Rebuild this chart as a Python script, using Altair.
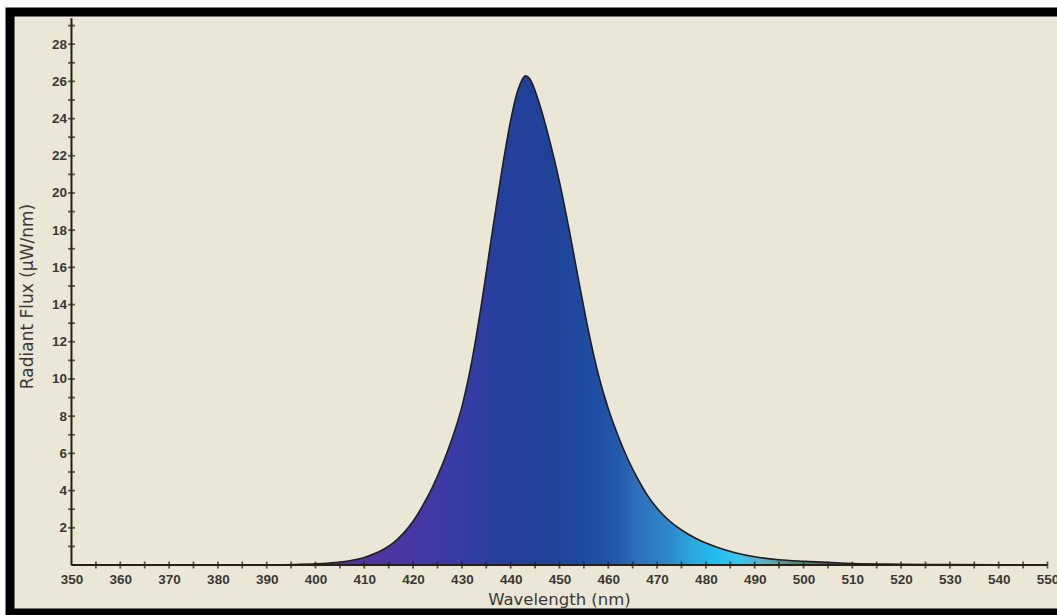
import altair as alt
import pandas as pd

# Emission spectrum of a blue LED
wavelength_nm = [350, 360, 370, 380, 390, 396, 400, 403, 406, 408, 410, 412, 414, 416,
                 418, 420, 422, 424, 426, 428, 430, 432, 434, 436, 438, 440, 441, 442,
                 443, 444, 445, 446, 448, 450, 452, 454, 456, 458, 460, 462, 464, 466,
                 468, 470, 472, 475, 478, 482, 486, 490, 495, 500, 505, 510, 520, 530,
                 540, 550]
radiant_flux = [0, 0, 0, 0, 0.01, 0.03, 0.06, 0.11, 0.19, 0.28, 0.4, 0.6, 0.85, 1.2,
                1.7, 2.35, 3.2, 4.2, 5.4, 6.8, 8.5, 10.9, 14.0, 17.5, 20.9, 23.9, 25.1, 25.9,
                26.3, 26.1, 25.5, 24.7, 22.8, 20.6, 18.0, 15.2, 12.5, 10.2, 8.4, 6.95, 5.7, 4.65,
                3.75, 3.05, 2.5, 1.88, 1.42, 0.98, 0.66, 0.44, 0.28, 0.2, 0.14, 0.08, 0.04, 0.02,
                0.01, 0]

# Axis ticks and labels
x_label_nm = list(range(350, 551, 10))
x_tick_nm = list(range(355, 551, 5))
y_label_flux = list(range(2, 29, 2))
y_tick_flux = list(range(1, 30))
y_axis_top = 29.4

# Spectral colouring of the fill (wavelength, colour)
fill_stop_nm = [350, 410, 418, 428, 438, 448, 456, 462, 466, 472, 477, 482, 487, 492, 498, 505, 550]
fill_stop_color = ["#523096", "#50339e", "#4a37a4", "#3a3ba6", "#253f9c", "#1f4298",
                   "#1f4ca2", "#2358ac", "#2e70bb", "#2f86c8", "#2aa6dc", "#22bdef",
                   "#3cc4ec", "#5ab0c0", "#4a8c7c", "#3f7060", "#3f6a50"]

spectrum = pd.DataFrame({"nm": wavelength_nm, "flux": radiant_flux})
x_ticks = pd.DataFrame({"nm": x_tick_nm, "flux": [0] * len(x_tick_nm)})
y_ticks = pd.DataFrame({"nm": [350] * len(y_tick_flux), "flux": y_tick_flux})
axis_lines = pd.DataFrame({"nm": [350, 350], "flux": [0, 0],
                           "nm2": [550, 350], "flux2": [0, y_axis_top]})

span = wavelength_nm[-1] - wavelength_nm[0]
gradient = alt.Gradient(
    gradient="linear", x1=0, x2=1, y1=0, y2=0,
    stops=[alt.GradientStop(offset=(w - wavelength_nm[0]) / span, color=c)
           for w, c in zip(fill_stop_nm, fill_stop_color)],
)

W, H = 1057, 601
x_scale = alt.Scale(domain=[337.40, 554.0], nice=False, zero=False)
y_scale = alt.Scale(domain=[-2.581, 29.731], nice=False, zero=False)

text_color = "#3b3833"
axis_color = "#2a1f17"

x_axis = alt.Axis(
    orient="bottom", offset=-48, values=x_label_nm, domain=False, ticks=False, grid=False,
    labelFont="Liberation Sans", labelFontWeight="bold", labelFontSize=13.5,
    labelColor=text_color, labelPadding=7, labelFlush=False, labelOverlap=False,
    title="Wavelength (nm)", titleFont="DejaVu Sans", titleFontSize=16.5,
    titleFontWeight="normal", titleColor=text_color, titleX=549, titleY=39,
    titleAlign="center", titleBaseline="alphabetic", format="d",
)
y_axis = alt.Axis(
    orient="left", offset=-61.5, values=y_label_flux, domain=False, ticks=False, grid=False,
    labelFont="Liberation Sans", labelFontWeight="bold", labelFontSize=13.5,
    labelColor=text_color, labelPadding=5, labelFlush=False, labelOverlap=False,
    title="Radiant Flux (µW/nm)", titleFont="DejaVu Sans", titleFontSize=17,
    titleFontWeight="normal", titleColor=text_color, titleX=-44.5, titleY=284,
    titleAngle=270, titleAlign="center", titleBaseline="middle", format="d",
)

area = alt.Chart(spectrum).mark_area(interpolate="monotone", color=gradient, line=False)
outline = alt.Chart(spectrum).mark_line(interpolate="monotone", color="#1c1f2a", strokeWidth=1.6)
rules = alt.Chart(axis_lines).mark_rule(color=axis_color, strokeWidth=2).encode(
    x2="nm2:Q", y2="flux2:Q"
)
xt = alt.Chart(x_ticks).mark_tick(orient="vertical", size=7, thickness=1.8, color=axis_color)
yt = alt.Chart(y_ticks).mark_tick(orient="horizontal", size=7, thickness=1.8, color=axis_color)

chart = alt.layer(area, outline, rules, xt, yt).encode(
    x=alt.X("nm:Q", scale=x_scale, axis=x_axis),
    y=alt.Y("flux:Q", scale=y_scale, axis=y_axis),
).properties(
    width=W,
    height=H,
    autosize=alt.AutoSizeParams(type="none"),
    padding={"left": 10, "top": 12, "right": -10, "bottom": 2},
    background="white",
).configure_view(
    fill="#EBE7D6", stroke="#000000", strokeWidth=9
)

chart.save("out.html", embed_options={"renderer": "svg", "actions": False})
